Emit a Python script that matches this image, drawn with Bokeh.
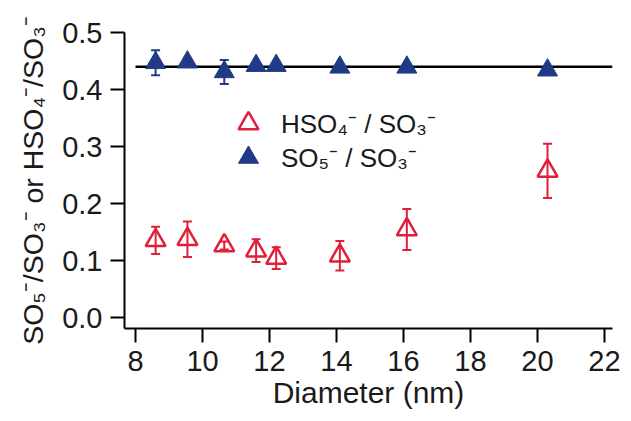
from bokeh.plotting import figure
from bokeh.models import (Range1d, FixedTicker, PrintfTickFormatter, ColumnDataSource,
                          Whisker, TeeHead, Legend, LegendItem)
from bokeh.embed import file_html
from bokeh.resources import INLINE

# ---- data ----
diam = [8.6, 9.55, 10.65, 11.6, 12.2, 14.1, 16.1, 20.3]
hso4_ratio = [0.136, 0.138, 0.127, 0.118, 0.105, 0.109, 0.155, 0.2575]
hso4_err = [0.024, 0.031, 0.007, 0.020, 0.019, 0.026, 0.036, 0.0475]
so5_ratio = [0.447, 0.448, 0.431, 0.442, 0.442, 0.439, 0.439, 0.434]
so5_err = [0.022, 0.004, 0.021, 0.004, 0.004, 0.003, 0.003, 0.003]
ref_x = [8.0, 22.24]
ref_y = [0.44, 0.44]
x_ticks = [8, 10, 12, 14, 16, 18, 20, 22]
y_ticks = [0.0, 0.1, 0.2, 0.3, 0.4, 0.5]
legend_labels = ["HSO₄⁻ / SO₃⁻", "SO₅⁻ / SO₃⁻"]

RED = "#e0203a"
BLUE = "#1f3a86"
FONT = "Liberation Sans"
TXT = "#1a1a1a"

p = figure(width=623, height=413, x_range=Range1d(7.671, 22.24), y_range=Range1d(-0.0184, 0.5),
           output_backend="svg", toolbar_location=None,
           min_border_left=124, min_border_right=11, min_border_top=32, min_border_bottom=85)
p.outline_line_color = None
p.xgrid.visible = False
p.ygrid.visible = False
p.background_fill_color = "white"

red_src = ColumnDataSource(dict(x=diam, y=hso4_ratio,
                                upper=[v + e for v, e in zip(hso4_ratio, hso4_err)],
                                lower=[v - e for v, e in zip(hso4_ratio, hso4_err)]))
blue_src = ColumnDataSource(dict(x=diam, y=so5_ratio,
                                 upper=[v + e for v, e in zip(so5_ratio, so5_err)],
                                 lower=[v - e for v, e in zip(so5_ratio, so5_err)]))

for src, col in ((red_src, RED), (blue_src, BLUE)):
    p.add_layout(Whisker(source=src, base="x", upper="upper", lower="lower",
                         line_color=col, line_width=2,
                         upper_head=TeeHead(size=9, line_color=col, line_width=2),
                         lower_head=TeeHead(size=9, line_color=col, line_width=2)))

p.line(ref_x, ref_y, line_color="black", line_width=2.5)

r_red = p.scatter("x", "y", source=red_src, marker="triangle", size=20,
                  fill_color=None, line_color=RED, line_width=2.5)
r_blue = p.scatter("x", "y", source=blue_src, marker="triangle", size=20,
                   fill_color=BLUE, line_color=BLUE, line_width=1)

for ax in (p.xaxis[0], p.yaxis[0]):
    ax.axis_line_width = 2
    ax.major_tick_line_width = 2
    ax.major_tick_out = 14
    ax.major_tick_in = 0
    ax.minor_tick_out = 0
    ax.minor_tick_in = 0
    ax.major_label_text_font = FONT
    ax.major_label_text_font_size = "29px"
    ax.major_label_text_color = TXT
    ax.axis_label_text_font = FONT
    ax.axis_label_text_font_style = "normal"
    ax.axis_label_text_color = TXT

p.xaxis.axis_label_text_font_size = "30px"
p.yaxis.axis_label_text_font_size = "28.5px"
p.xaxis.ticker = FixedTicker(ticks=x_ticks)
p.yaxis.ticker = FixedTicker(ticks=y_ticks)
p.yaxis.formatter = PrintfTickFormatter(format="%.1f")
p.xaxis.major_label_standoff = 8
p.yaxis.major_label_standoff = 8
p.xaxis.axis_label = "Diameter (nm)"
p.yaxis.axis_label = "SO₅⁻/SO₃⁻ or HSO₄⁻/SO₃⁻"
p.xaxis.axis_label_standoff = 2
p.yaxis.axis_label_standoff = 10

for label, rend, loc in ((legend_labels[0], r_red, (99, 180)), (legend_labels[1], r_blue, (99, 146))):
    p.add_layout(Legend(items=[LegendItem(label=label, renderers=[rend])],
                        location=loc, glyph_width=50, glyph_height=50,
                        padding=0, margin=0, border_line_color=None, background_fill_alpha=0,
                        label_text_font=FONT, label_text_font_size="26px", label_standoff=8,
                        label_text_color=TXT))

open("out.html", "w").write(file_html(p, INLINE))
